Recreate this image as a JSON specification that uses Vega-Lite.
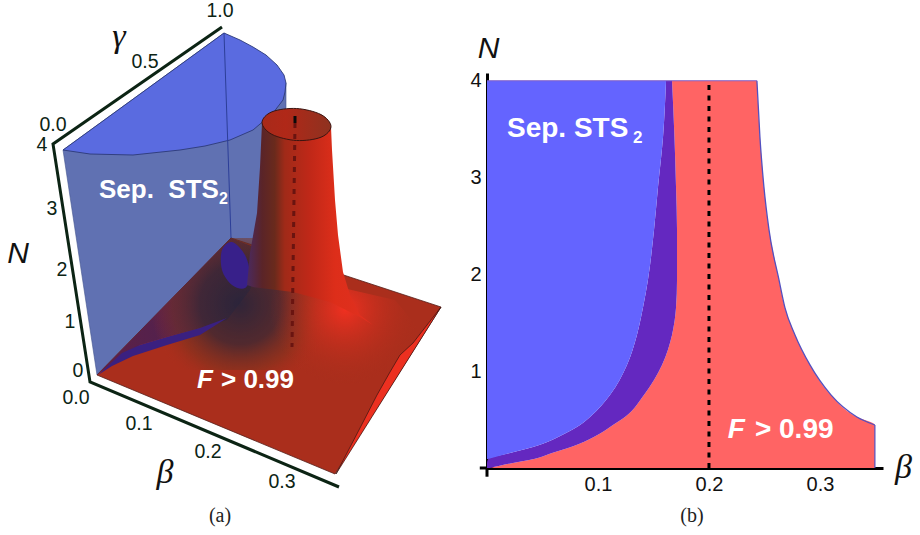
{
"$schema":"https://vega.github.io/schema/vega-lite/v6.json",
"width":920,"height":535,"padding":0,"autosize":{"type":"fit","contains":"padding"},
"background":"white","view":{"stroke":null},
"config":{"style":{"cell":{"stroke":null}}},
"datasets":{
"surface":[
{"p":"wall","i":1,"u":63,"v":150},{"p":"wall","i":2,"u":97,"v":375},{"p":"wall","i":3,"u":231,"v":238},{"p":"wall","i":4,"u":255,"v":250},{"p":"wall","i":5,"u":270,"v":150},{"p":"wall","i":6,"u":286,"v":110},{"p":"wall","i":7,"u":286,"v":83},{"p":"wall","i":8,"u":224,"v":33},{"p":"wall","i":9,"u":63,"v":150},
{"p":"cap","i":1,"u":63,"v":150},{"p":"cap","i":2,"u":224,"v":33},{"p":"cap","i":3,"u":240,"v":40},{"p":"cap","i":4,"u":253,"v":47},{"p":"cap","i":5,"u":266,"v":55},{"p":"cap","i":6,"u":277,"v":65},{"p":"cap","i":7,"u":284,"v":75},{"p":"cap","i":8,"u":286,"v":83},{"p":"cap","i":9,"u":285,"v":92},{"p":"cap","i":10,"u":283,"v":100},{"p":"cap","i":11,"u":273,"v":113},{"p":"cap","i":12,"u":253,"v":130},{"p":"cap","i":13,"u":230,"v":140},{"p":"cap","i":14,"u":205,"v":146},{"p":"cap","i":15,"u":180,"v":150},{"p":"cap","i":16,"u":133,"v":155},{"p":"cap","i":17,"u":90,"v":154},{"p":"cap","i":18,"u":63,"v":150},
{"p":"back","i":1,"u":224,"v":33},{"p":"back","i":2,"u":231,"v":238},
{"p":"floor","i":1,"u":97,"v":375},{"p":"floor","i":2,"u":231,"v":238},{"p":"floor","i":3,"u":441,"v":307},{"p":"floor","i":4,"u":335,"v":474},{"p":"floor","i":5,"u":97,"v":375},
{"p":"maroon","i":1,"u":97,"v":375},{"p":"maroon","i":2,"u":231,"v":238},{"p":"maroon","i":3,"u":262,"v":250},{"p":"maroon","i":4,"u":250,"v":290},{"p":"maroon","i":5,"u":227,"v":320},{"p":"maroon","i":6,"u":200,"v":328},{"p":"maroon","i":7,"u":167,"v":337},{"p":"maroon","i":8,"u":140,"v":345},{"p":"maroon","i":9,"u":110,"v":365},{"p":"maroon","i":10,"u":97,"v":375},
{"p":"band","i":1,"u":98,"v":375},{"p":"band","i":2,"u":110,"v":364},{"p":"band","i":3,"u":122,"v":353},{"p":"band","i":4,"u":140,"v":345},{"p":"band","i":5,"u":167,"v":337},{"p":"band","i":6,"u":200,"v":328},{"p":"band","i":7,"u":227,"v":318},{"p":"band","i":8,"u":200,"v":335},{"p":"band","i":9,"u":167,"v":345},{"p":"band","i":10,"u":133,"v":356},{"p":"band","i":11,"u":112,"v":366},{"p":"band","i":12,"u":98,"v":375},
{"p":"blob","i":1,"u":222,"v":250},{"p":"blob","i":2,"u":232,"v":242},{"p":"blob","i":3,"u":245,"v":255},{"p":"blob","i":4,"u":250,"v":275},{"p":"blob","i":5,"u":245,"v":288},{"p":"blob","i":6,"u":232,"v":285},{"p":"blob","i":7,"u":222,"v":270},
{"p":"dark","i":1,"u":150,"v":321},{"p":"dark","i":2,"u":231,"v":238},{"p":"dark","i":3,"u":330,"v":238},{"p":"dark","i":4,"u":330,"v":370},{"p":"dark","i":5,"u":150,"v":370},{"p":"dark","i":6,"u":150,"v":321},
{"p":"bright","i":1,"u":270,"v":280},{"p":"bright","i":2,"u":330,"v":285},{"p":"bright","i":3,"u":395,"v":300},{"p":"bright","i":4,"u":420,"v":330},{"p":"bright","i":5,"u":400,"v":355},{"p":"bright","i":6,"u":390,"v":372},{"p":"bright","i":7,"u":340,"v":390},{"p":"bright","i":8,"u":280,"v":380},{"p":"bright","i":9,"u":270,"v":330},{"p":"bright","i":10,"u":270,"v":280},
{"p":"funnel","i":1,"u":262,"v":123},{"p":"funnel","i":2,"u":260,"v":167},{"p":"funnel","i":3,"u":257,"v":213},{"p":"funnel","i":4,"u":250,"v":253},{"p":"funnel","i":5,"u":247,"v":285},{"p":"funnel","i":6,"u":253,"v":287},{"p":"funnel","i":7,"u":293,"v":292},{"p":"funnel","i":8,"u":330,"v":302},{"p":"funnel","i":9,"u":360,"v":317},{"p":"funnel","i":10,"u":373,"v":325},{"p":"funnel","i":11,"u":360,"v":315},{"p":"funnel","i":12,"u":350,"v":295},{"p":"funnel","i":13,"u":343,"v":272},{"p":"funnel","i":14,"u":338,"v":235},{"p":"funnel","i":15,"u":335,"v":200},{"p":"funnel","i":16,"u":332,"v":150},{"p":"funnel","i":17,"u":331,"v":127},
{"p":"rim","i":1,"u":331,"v":126.5},{"p":"rim","i":2,"u":321,"v":137.2},{"p":"rim","i":3,"u":296.5,"v":140.5},{"p":"rim","i":4,"u":272,"v":134.4},{"p":"rim","i":5,"u":262,"v":122.5},{"p":"rim","i":6,"u":272,"v":111.8},{"p":"rim","i":7,"u":296.5,"v":108.5},{"p":"rim","i":8,"u":321,"v":114.6},
{"p":"strip","i":1,"u":441,"v":307},{"p":"strip","i":2,"u":413,"v":343},{"p":"strip","i":3,"u":400,"v":355},{"p":"strip","i":4,"u":390,"v":372},{"p":"strip","i":5,"u":377,"v":395},{"p":"strip","i":6,"u":360,"v":428},{"p":"strip","i":7,"u":336,"v":474},{"p":"strip","i":8,"u":441,"v":307},
{"p":"dash","i":1,"u":295,"v":123},{"p":"dash","i":2,"u":292,"v":347},
{"p":"dashtop","i":1,"u":295,"v":116},{"p":"dashtop","i":2,"u":295,"v":123},
{"p":"axes","i":1,"u":222,"v":27},{"p":"axes","i":2,"u":53,"v":144},{"p":"axes","i":3,"u":90,"v":382},{"p":"axes","i":4,"u":339,"v":487}
],
"labels":[
{"k":"tick","u":53,"v":125,"t":"0.0"},{"k":"tick","u":42,"v":145,"t":"4"},{"k":"tick","u":52,"v":209,"t":"3"},{"k":"tick","u":62,"v":270,"t":"2"},{"k":"tick","u":70,"v":322,"t":"1"},{"k":"tick","u":78,"v":371,"t":"0"},{"k":"tick","u":76,"v":398,"t":"0.0"},{"k":"tick","u":139,"v":424,"t":"0.1"},{"k":"tick","u":208,"v":452,"t":"0.2"},{"k":"tick","u":282,"v":482,"t":"0.3"},{"k":"tick","u":145,"v":62,"t":"0.5"},{"k":"tick","u":220,"v":11,"t":"1.0"},
{"k":"greek","u":119,"v":37,"t":"γ"},{"k":"greek","u":165,"v":473,"t":"β"},
{"k":"name","u":18,"v":254,"t":"N"},
{"k":"cap","u":220,"v":516,"t":"(a)"},{"k":"cap","u":692,"v":516,"t":"(b)"}
],
"whiteA":[
{"k":"big","u":99,"v":198,"t":"Sep.\u00a0\u00a0STS"},{"k":"sub","u":219,"v":204,"t":"2"},{"k":"big","u":221,"v":388,"t":"> 0.99"},{"k":"it","u":197,"v":388,"t":"F"}
],
"regions":[
{"z":0,"N":4.0,"a":0.1613,"b":0.1667,"c":0.2432},{"z":0,"N":3.42,"a":0.1586,"b":0.1689,"c":0.2459},{"z":0,"N":2.904,"a":0.1541,"b":0.1703,"c":0.2495},{"z":0,"N":2.46,"a":0.1505,"b":0.1712,"c":0.2541},{"z":0,"N":1.943,"a":0.145,"b":0.1712,"c":0.2631},{"z":0,"N":1.654,"a":0.1405,"b":0.1703,"c":0.2685},{"z":0,"N":1.375,"a":0.1351,"b":0.1667,"c":0.2775},{"z":0,"N":1.065,"a":0.1261,"b":0.1577,"c":0.291},{"z":0,"N":0.755,"a":0.1108,"b":0.1414,"c":0.3099},{"z":0,"N":0.527,"a":0.0928,"b":0.1243,"c":0.3333},{"z":0,"N":0.444,"a":0.0838,"b":0.1135,"c":0.3495},{"z":0,"N":0.362,"a":0.0712,"b":0.1027,"c":0.3495},{"z":0,"N":0.217,"a":0.0414,"b":0.0757,"c":0.3495},{"z":0,"N":0.155,"a":0.0207,"b":0.0586,"c":0.3495},{"z":0,"N":0.093,"a":0.0009,"b":0.0423,"c":0.3495},{"z":0,"N":0.052,"a":0,"b":0.0234,"c":0.3495},{"z":0,"N":0,"a":0,"b":0.0027,"c":0.3495}
],
"whiteB":[
{"k":"big","beta":0.018,"N":3.42,"t":"Sep. STS"},{"k":"sub","beta":0.1315,"N":3.36,"t":"2"},{"k":"it","beta":0.217,"N":0.31,"t":"F"},{"k":"big","beta":0.2414,"N":0.31,"t":"> 0.99"}
]
},
"resolve":{"scale":{"x":"independent","y":"independent"},"axis":{"x":"independent","y":"independent"}},
"layer":[
{
"encoding":{
"x":{"field":"u","type":"quantitative","scale":{"domain":[0,920],"range":[0,920],"nice":false},"axis":null},
"y":{"field":"v","type":"quantitative","scale":{"domain":[0,535],"range":[0,535],"nice":false},"axis":null},
"order":{"field":"i","type":"quantitative"}
},
"layer":[
{"data":{"name":"surface"},"transform":[{"filter":"datum.p=='wall'"}],"mark":{"type":"line","fill":"#6071b2","stroke":"#44558f","strokeWidth":0.6}},
{"data":{"name":"surface"},"transform":[{"filter":"datum.p=='cap'"}],"mark":{"type":"line","fill":"#5a6be0","stroke":"#2c3a78","strokeWidth":0.9}},
{"data":{"name":"surface"},"transform":[{"filter":"datum.p=='back'"}],"mark":{"type":"line","stroke":"#2c3e98","strokeWidth":1}},
{"data":{"name":"surface"},"transform":[{"filter":"datum.p=='floor'"}],"mark":{"type":"line","fill":"#aa2e1c","stroke":"#55201a","strokeWidth":0.8}},
{"data":{"name":"surface"},"transform":[{"filter":"datum.p=='maroon'"}],"mark":{"type":"line","strokeWidth":0,"fill":{"gradient":"linear","x1":0,"y1":0,"x2":1,"y2":0,"stops":[{"offset":0,"color":"#5e2046"},{"offset":0.6,"color":"#4e2250"},{"offset":1,"color":"#32243f"}]}}},
{"data":{"name":"surface"},"transform":[{"filter":"datum.p=='dark'"}],"mark":{"type":"line","strokeWidth":0,"fill":{"gradient":"radial","x1":0.5,"y1":0.5,"r1":0,"x2":0.5,"y2":0.5,"r2":0.5,"stops":[{"offset":0,"color":"rgba(42,36,58,0.95)"},{"offset":0.45,"color":"rgba(62,40,50,0.82)"},{"offset":0.75,"color":"rgba(120,50,30,0.5)"},{"offset":1,"color":"rgba(170,46,28,0)"}]}}},
{"data":{"name":"surface"},"transform":[{"filter":"datum.p=='band'"}],"mark":{"type":"line","fill":"#3a2080","strokeWidth":0}},
{"data":{"name":"surface"},"transform":[{"filter":"datum.p=='blob'"}],"mark":{"type":"line","interpolate":"cardinal-closed","fill":"#38208a","strokeWidth":0}},
{"data":{"name":"surface"},"transform":[{"filter":"datum.p=='bright'"}],"mark":{"type":"line","strokeWidth":0,"fill":{"gradient":"radial","x1":0.5,"y1":0.33,"r1":0,"x2":0.5,"y2":0.33,"r2":0.5,"stops":[{"offset":0,"color":"rgba(240,48,32,1)"},{"offset":1,"color":"rgba(170,46,28,0)"}]}}},
{"data":{"name":"surface"},"transform":[{"filter":"datum.p=='funnel'"}],"mark":{"type":"line","strokeWidth":0,"fill":{"gradient":"linear","x1":0,"y1":0,"x2":1,"y2":0,"stops":[{"offset":0,"color":"#4a2a60"},{"offset":0.12,"color":"#5a2428"},{"offset":0.22,"color":"#6a2a1c"},{"offset":0.3,"color":"#a02a18"},{"offset":0.5,"color":"#c02818"},{"offset":0.7,"color":"#dd2e1a"},{"offset":1,"color":"#e03020"}]}}},
{"data":{"name":"surface"},"transform":[{"filter":"datum.p=='rim'"}],"mark":{"type":"line","interpolate":"cardinal-closed","stroke":"#3a1410","strokeWidth":1,"fill":{"gradient":"linear","x1":0,"y1":0,"x2":1,"y2":0,"stops":[{"offset":0,"color":"#a82a1a"},{"offset":0.35,"color":"#b02818"},{"offset":1,"color":"#8e3220"}]}}},
{"data":{"name":"surface"},"transform":[{"filter":"datum.p=='strip'"}],"mark":{"type":"line","fill":"#ec3020","stroke":"#3a1410","strokeWidth":0.7}},
{"data":{"name":"surface"},"transform":[{"filter":"datum.p=='dash'"}],"mark":{"type":"line","stroke":"#6a1410","strokeWidth":3,"strokeDash":[5,6]}},
{"data":{"name":"surface"},"transform":[{"filter":"datum.p=='dashtop'"}],"mark":{"type":"line","stroke":"#0a0a0a","strokeWidth":3}},
{"data":{"name":"surface"},"transform":[{"filter":"datum.p=='axes'"}],"mark":{"type":"line","stroke":"#0c2414","strokeWidth":3,"strokeJoin":"miter"}},
{"data":{"name":"labels"},"transform":[{"filter":"datum.k=='tick'"}],"mark":{"type":"text","font":"Liberation Sans","fontSize":19.5,"fill":"#0c2414","align":"center","baseline":"middle"},"encoding":{"text":{"field":"t"}}},
{"data":{"name":"labels"},"transform":[{"filter":"datum.k=='greek'"}],"mark":{"type":"text","font":"Liberation Serif","fontStyle":"italic","fontSize":34,"fill":"#111","align":"center","baseline":"middle"},"encoding":{"text":{"field":"t"}}},
{"data":{"name":"labels"},"transform":[{"filter":"datum.k=='name'"}],"mark":{"type":"text","font":"Liberation Sans","fontStyle":"italic","fontSize":30,"fill":"#111","align":"center","baseline":"middle"},"encoding":{"text":{"field":"t"}}},
{"data":{"name":"labels"},"transform":[{"filter":"datum.k=='cap'"}],"mark":{"type":"text","font":"Liberation Serif","fontSize":20,"fill":"#222","align":"center","baseline":"middle"},"encoding":{"text":{"field":"t"}}},
{"data":{"name":"whiteA"},"transform":[{"filter":"datum.k=='big'"}],"mark":{"type":"text","font":"Liberation Sans","fontWeight":"bold","fontSize":26,"fill":"white","align":"left","baseline":"alphabetic"},"encoding":{"text":{"field":"t"}}},
{"data":{"name":"whiteA"},"transform":[{"filter":"datum.k=='sub'"}],"mark":{"type":"text","font":"Liberation Sans","fontWeight":"bold","fontSize":16,"fill":"white","align":"left","baseline":"alphabetic"},"encoding":{"text":{"field":"t"}}},
{"data":{"name":"whiteA"},"transform":[{"filter":"datum.k=='it'"}],"mark":{"type":"text","font":"Liberation Sans","fontWeight":"bold","fontStyle":"italic","fontSize":26,"fill":"white","align":"left","baseline":"alphabetic"},"encoding":{"text":{"field":"t"}}}
]
},
{
"layer":[
{"data":{"name":"regions"},"mark":{"type":"area","orient":"horizontal","interpolate":"monotone","fill":"#ff6464"},
"encoding":{"y":{"field":"N","type":"quantitative","title":"N","scale":{"domain":[0,4.08],"range":[468,73],"nice":false},"axis":{"offset":-487,"values":[1,2,3,4],"format":"d","grid":false,"tickSize":0,"labelPadding":6,"labelFont":"Liberation Sans","labelFontSize":20,"labelColor":"#111","domainColor":"#000","domainWidth":3,"titleFont":"Liberation Sans","titleFontStyle":"italic","titleFontWeight":"normal","titleFontSize":30,"titleColor":"#111","titleAngle":0,"titleX":1,"titleY":57,"titleAlign":"center","titleBaseline":"alphabetic"}},
"x":{"field":"b","type":"quantitative","title":"β","scale":{"domain":[0,0.3568],"range":[487,883],"nice":false},"axis":{"offset":-67,"values":[0.1,0.2,0.3],"format":".1f","grid":false,"tickSize":0,"labelPadding":6,"labelFont":"Liberation Sans","labelFontSize":20,"labelColor":"#111","domainColor":"#000","domainWidth":3,"titleFont":"Liberation Serif","titleFontStyle":"italic","titleFontWeight":"normal","titleFontSize":34,"titleColor":"#111","titleX":903,"titleY":9,"titleAlign":"center","titleBaseline":"alphabetic"}},
"x2":{"field":"c"}}},
{"data":{"name":"regions"},"mark":{"type":"area","orient":"horizontal","interpolate":"monotone","fill":"#6428c0"},
"encoding":{"y":{"field":"N","type":"quantitative"},"x":{"field":"a","type":"quantitative"},"x2":{"field":"b"}}},
{"data":{"name":"regions"},"transform":[{"filter":"datum.N>=0.09"}],"mark":{"type":"area","orient":"horizontal","interpolate":"monotone","fill":"#6464ff"},
"encoding":{"y":{"field":"N","type":"quantitative"},"x":{"field":"z","type":"quantitative"},"x2":{"field":"a"}}},
{"data":{"name":"regions"},"transform":[{"filter":"datum.N>=0.44"}],"mark":{"type":"line","orient":"horizontal","interpolate":"monotone","stroke":"#5250c0","strokeWidth":1.3},
"encoding":{"x":{"field":"c","type":"quantitative"},"y":{"field":"N","type":"quantitative"},"order":{"field":"N","type":"quantitative"}}},
{"data":{"values":[{"beta":0,"beta2":0.2432,"N":4}]},"mark":{"type":"rule","stroke":"#8060c8","strokeWidth":1.2},
"encoding":{"x":{"field":"beta","type":"quantitative"},"x2":{"field":"beta2"},"y":{"field":"N","type":"quantitative"}}},
{"data":{"values":[{"beta":0.3495,"N":0,"N2":0.444}]},"mark":{"type":"rule","stroke":"#5250c0","strokeWidth":1.2},
"encoding":{"x":{"field":"beta","type":"quantitative"},"y":{"field":"N","type":"quantitative"},"y2":{"field":"N2"}}},
{"data":{"values":[{"beta":0.2,"N":0,"N2":3.97}]},"mark":{"type":"rule","stroke":"#000","strokeWidth":3,"strokeDash":[5,5.5]},
"encoding":{"x":{"field":"beta","type":"quantitative"},"y":{"field":"N","type":"quantitative"},"y2":{"field":"N2"}}},
{"data":{"values":[{"beta":0,"N":0,"N2":-0.09}]},"mark":{"type":"rule","stroke":"#000","strokeWidth":3},
"encoding":{"x":{"field":"beta","type":"quantitative"},"y":{"field":"N","type":"quantitative"},"y2":{"field":"N2"}}},
{"data":{"values":[{"beta":-0.0065,"beta2":0,"N":0}]},"mark":{"type":"rule","stroke":"#000","strokeWidth":3},
"encoding":{"x":{"field":"beta","type":"quantitative"},"x2":{"field":"beta2"},"y":{"field":"N","type":"quantitative"}}},
{"data":{"name":"whiteB"},"transform":[{"filter":"datum.k=='big'"}],"mark":{"type":"text","font":"Liberation Sans","fontWeight":"bold","fontSize":28,"fill":"white","align":"left","baseline":"alphabetic"},
"encoding":{"x":{"field":"beta","type":"quantitative"},"y":{"field":"N","type":"quantitative"},"text":{"field":"t"}}},
{"data":{"name":"whiteB"},"transform":[{"filter":"datum.k=='sub'"}],"mark":{"type":"text","font":"Liberation Sans","fontWeight":"bold","fontSize":17,"fill":"white","align":"left","baseline":"alphabetic"},
"encoding":{"x":{"field":"beta","type":"quantitative"},"y":{"field":"N","type":"quantitative"},"text":{"field":"t"}}},
{"data":{"name":"whiteB"},"transform":[{"filter":"datum.k=='it'"}],"mark":{"type":"text","font":"Liberation Sans","fontWeight":"bold","fontStyle":"italic","fontSize":28,"fill":"white","align":"left","baseline":"alphabetic"},
"encoding":{"x":{"field":"beta","type":"quantitative"},"y":{"field":"N","type":"quantitative"},"text":{"field":"t"}}}
]
}
]
}
